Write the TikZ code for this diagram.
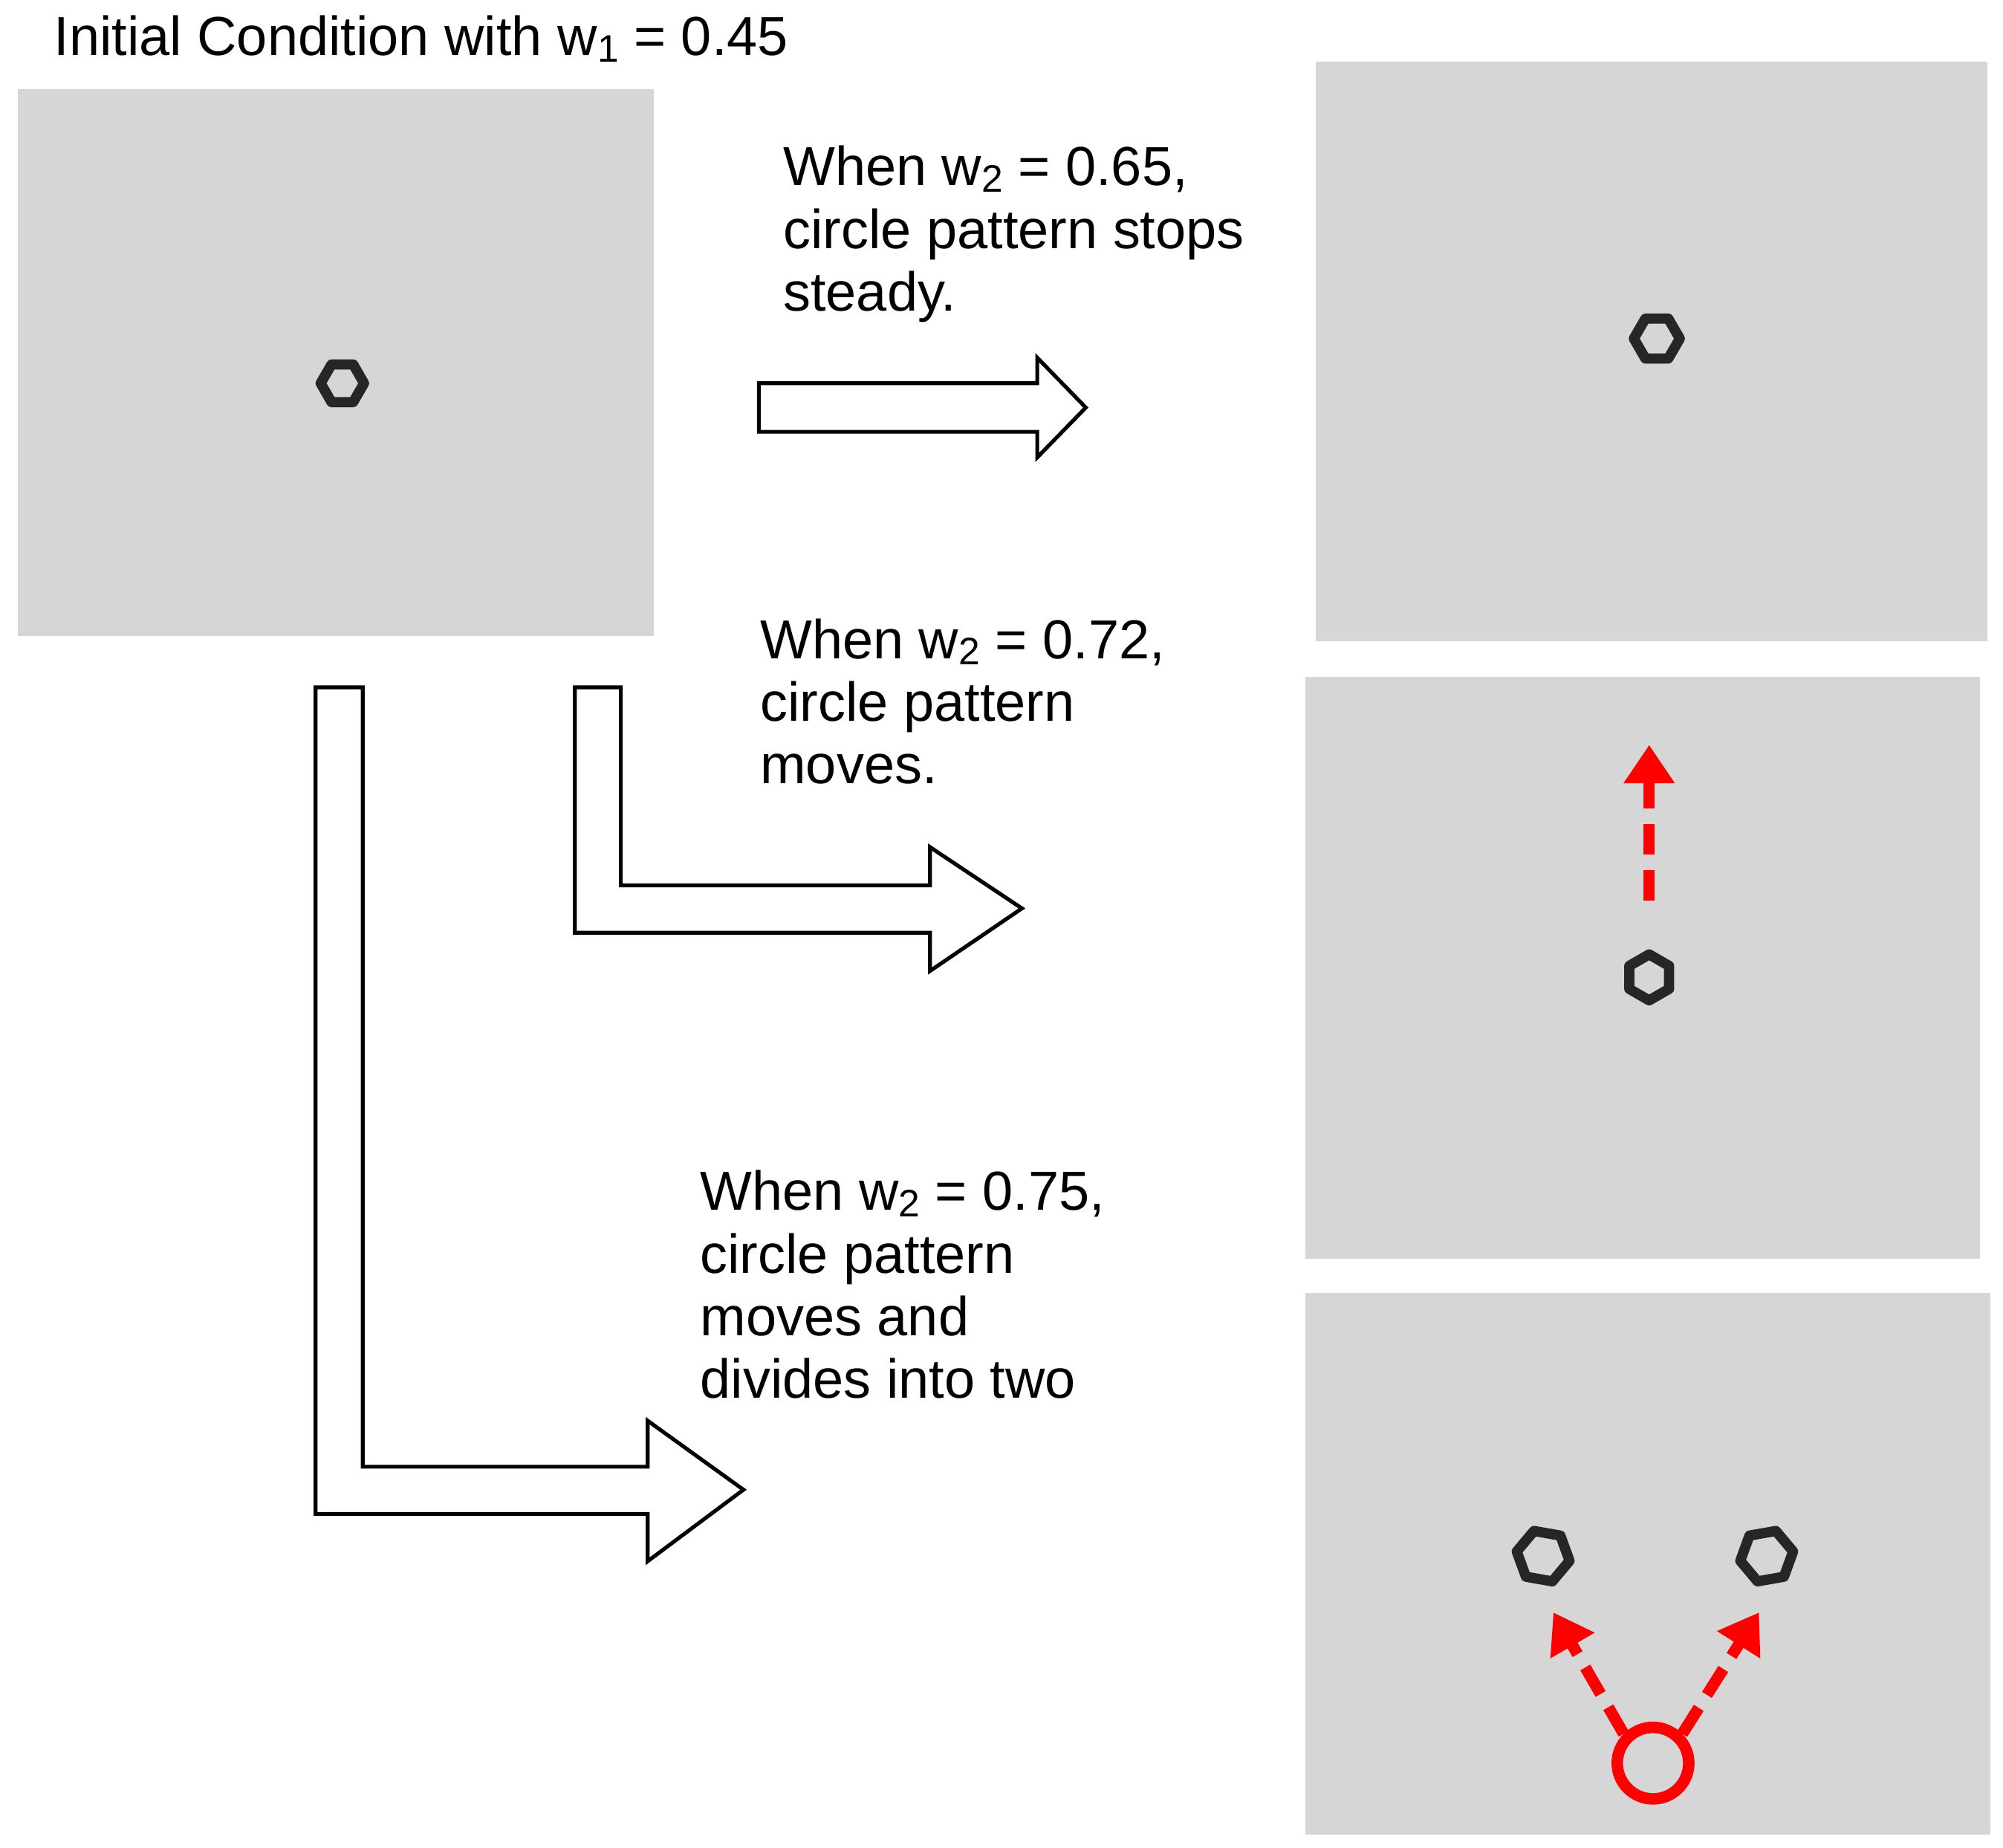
\documentclass[tikz,border=0pt]{standalone}
\usepackage{fontspec}
\usetikzlibrary{arrows.meta}
\setmainfont{Liberation Sans}
\newcommand{\mysub}[1]{\raisebox{-0.12em}{\fontsize{30}{30}\selectfont #1}}
\begin{document}
\begin{tikzpicture}[x=1pt,y=-1pt,
  panel/.style={fill=black!16,draw=none},
  hexring/.style={draw=black!85,line width=8pt,line join=round},
  blk/.style={draw=black,line width=3pt,fill=white,line join=miter},
  redarr/.style={draw=red,line width=9pt,dash pattern=on 24pt off 12pt,-{Triangle[length=30pt,width=38pt]}},
  lbl/.style={anchor=north west,align=left,font=\fontsize{43}{49}\selectfont,inner sep=0pt}]
\useasboundingbox (0,0) rectangle (1568,1446);
\fill[white] (0,0) rectangle (1568,1446);
% panels
\fill[panel] (14,70) rectangle (512,498);
\fill[panel] (1030,48) rectangle (1556,502);
\fill[panel] (1022,530) rectangle (1550,985);
\fill[panel] (1022,1012) rectangle (1558,1436);
% patterns
\draw[hexring] (268,300) +(0:17) -- +(60:17) -- +(120:17) -- +(180:17) -- +(240:17) -- +(300:17) -- cycle;
\draw[hexring] (1297,265) +(0:18) -- +(60:18) -- +(120:18) -- +(180:18) -- +(240:18) -- +(300:18) -- cycle;
\draw[hexring] (1291,765) +(30:18) -- +(90:18) -- +(150:18) -- +(210:18) -- +(270:18) -- +(330:18) -- cycle;
\draw[hexring] (1208,1218) +(10:21) -- +(70:21) -- +(130:21) -- +(190:21) -- +(250:21) -- +(310:21) -- cycle;
\draw[hexring] (1383,1218) +(-10:21) -- +(50:21) -- +(110:21) -- +(170:21) -- +(230:21) -- +(290:21) -- cycle;
% red markers
\coordinate (m0) at (1291,705); \coordinate (m1) at (1291,583);
\draw[redarr] (m0) -- (m1);
\node[draw=red,line width=9pt,circle,minimum size=56pt,inner sep=0pt] (rc) at (1294,1380) {};
\coordinate (a1) at (1216,1262); \coordinate (a2) at (1377,1262);
\draw[redarr] (rc.north west) -- (a1);
\draw[redarr] (rc.north east) -- (a2);
% block arrows
\draw[blk] (594,300) -- (812,300) -- (812,280) -- (850,319) -- (812,358) -- (812,338) -- (594,338) -- cycle;
\draw[blk] (450,538) -- (486,538) -- (486,693) -- (728,693) -- (728,663) -- (800,711) -- (728,760) -- (728,730) -- (450,730) -- cycle;
\draw[blk] (247,538) -- (284,538) -- (284,1148) -- (507,1148) -- (507,1112) -- (582,1166) -- (507,1222) -- (507,1185) -- (247,1185) -- cycle;
% labels
\node[lbl] (t0) at (42,12) {Initial Condition with w\mysub{1} = 0.45};
\node[lbl] (t1) at (613,114) {When w\mysub{2} = 0.65,\\circle pattern stops\\steady.};
\node[lbl] (t2) at (595,484) {When w\mysub{2} = 0.72,\\circle pattern\\moves.};
\node[lbl] (t3) at (548,916) {When w\mysub{2} = 0.75,\\circle pattern\\moves and\\divides into two};
\end{tikzpicture}
\end{document}
